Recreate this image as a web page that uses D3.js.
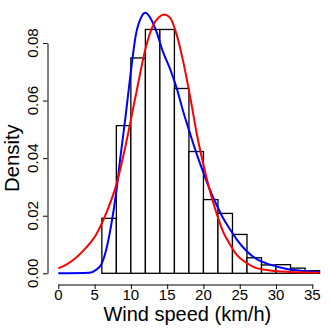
<!DOCTYPE html>
<html>
<head>
<meta charset="utf-8">
<script src="https://cdn.jsdelivr.net/npm/d3@7/dist/d3.min.js"></script>
<style>
html,body{margin:0;padding:0;background:#fff;}
svg{display:block;}
text{font-family:"Liberation Sans",Arial,Helvetica,sans-serif;fill:#000;}
</style>
</head>
<body>
<svg id="chart" width="332" height="332"></svg>
<script>
// Histogram bins (km/h) and densities
const binStarts = [4, 6, 8, 10, 12, 14, 16, 18, 20, 22, 24, 26, 28, 30, 32, 34];
const binWidth = 2;
const binDensity = [0, 0.0191, 0.0513, 0.0748, 0.0847, 0.0847, 0.0642, 0.0423, 0.0256, 0.0208, 0.0135, 0.0054, 0.0029, 0.0030, 0.0018, 0.0009];

// Blue fitted density curve
const blueX = [0, 4.3, 5.2, 5.9, 6.6, 7.3, 8.0, 8.6, 9.3, 10.0, 10.7, 11.4, 12.0, 12.8, 13.5, 14.4, 15.4, 16.3, 17.2, 18.2, 19.1, 20.0, 20.9, 21.8, 22.7, 23.7, 24.6, 26.0, 27.3, 29.2, 31.5, 33.8, 36];
const blueY = [0, 0.0002, 0.0012, 0.003, 0.0082, 0.0169, 0.0285, 0.0412, 0.0551, 0.0702, 0.083, 0.0888, 0.0905, 0.0882, 0.0841, 0.0771, 0.071, 0.0644, 0.0563, 0.0482, 0.0412, 0.0349, 0.029, 0.0238, 0.0192, 0.0151, 0.0117, 0.0076, 0.005, 0.003, 0.0015, 0.0008, 0.0004];

// Red fitted density curve
const redX = [0, 1.1, 2.4, 3.8, 5.2, 6.6, 8.0, 9.3, 10.7, 12.1, 13.0, 13.9, 14.6, 15.4, 16.3, 17.2, 18.2, 19.1, 20.0, 20.9, 21.8, 22.7, 23.7, 24.6, 26.0, 27.3, 29.2, 31.5, 33.8, 36];
const redY = [0.0017, 0.003, 0.0053, 0.0088, 0.0134, 0.0209, 0.0308, 0.0447, 0.0621, 0.0789, 0.0858, 0.089, 0.0899, 0.0888, 0.083, 0.0737, 0.0609, 0.0482, 0.0377, 0.0285, 0.0209, 0.0145, 0.0099, 0.0064, 0.0035, 0.0018, 0.001, 0.0005, 0.0003, 0.0002];

// Axis ticks
const xTicks = [0, 5, 10, 15, 20, 25, 30, 35];
const xTickLabels = ["0", "5", "10", "15", "20", "25", "30", "35"];
const yTicks = [0, 0.02, 0.04, 0.06, 0.08];
const yTickLabels = ["0.00", "0.02", "0.04", "0.06", "0.08"];
const xTitle = "Wind speed (km/h)";
const yTitle = "Density";

const svg = d3.select("#chart");
const x = d3.scaleLinear().domain([0, 35]).range([58.3, 312.3]);
const y = d3.scaleLinear().domain([0, 0.08]).range([273.3, 43]);

// Histogram
const bins = binStarts.map((s, i) => ({x0: s, x1: s + binWidth, d: binDensity[i]}));
svg.append("g").selectAll("rect").data(bins).join("rect")
  .attr("x", d => x(d.x0))
  .attr("y", d => y(d.d))
  .attr("width", d => x(d.x1) - x(d.x0))
  .attr("height", d => y(0) - y(d.d))
  .attr("fill", "#fff")
  .attr("stroke", "#000")
  .attr("stroke-width", 1.3);

// Curves
const line = d3.line().x(d => x(d[0])).y(d => y(d[1])).curve(d3.curveMonotoneX);
svg.append("path").datum(blueX.map((v, i) => [v, blueY[i]]))
  .attr("d", line).attr("fill", "none").attr("stroke", "#0000ff").attr("stroke-width", 2);
svg.append("path").datum(redX.map((v, i) => [v, redY[i]]))
  .attr("d", line).attr("fill", "none").attr("stroke", "#ff0000").attr("stroke-width", 2);

// X axis
const xAxisY = 284.5;
const xa = svg.append("g").attr("transform", `translate(0,${xAxisY})`)
  .call(d3.axisBottom(x).tickValues(xTicks).tickSize(4.5).tickSizeOuter(0).tickFormat(""));
xa.select(".domain").attr("stroke", "#000");
xa.selectAll(".tick line").attr("stroke", "#000");
svg.append("g").selectAll("text").data(xTicks).join("text")
  .attr("x", d => x(d))
  .attr("y", 300.2)
  .attr("text-anchor", "middle")
  .attr("font-size", 15)
  .text((d, i) => xTickLabels[i]);
svg.append("text").attr("x", (x(0) + x(35)) / 2 + 2).attr("y", 321.3)
  .attr("text-anchor", "middle").attr("font-size", 20).text(xTitle);

// Y axis
const yAxisX = 47.5;
const ya = svg.append("g").attr("transform", `translate(${yAxisX},0)`)
  .call(d3.axisLeft(y).tickValues(yTicks).tickSize(4.5).tickSizeOuter(0).tickFormat(""));
ya.select(".domain").attr("stroke", "#000");
ya.selectAll(".tick line").attr("stroke", "#000");
svg.append("g").selectAll("text").data(yTicks).join("text")
  .attr("transform", d => `translate(37.8,${y(d)}) rotate(-90)`)
  .attr("text-anchor", "middle")
  .attr("font-size", 15.2)
  .text((d, i) => yTickLabels[i]);
svg.append("text").attr("transform", `translate(18.5,${(y(0) + y(0.08)) / 2}) rotate(-90)`)
  .attr("text-anchor", "middle").attr("font-size", 20.3).text(yTitle);
</script>
</body>
</html>
